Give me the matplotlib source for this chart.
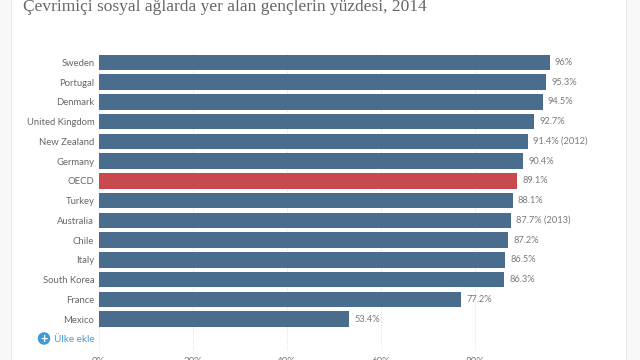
import matplotlib
matplotlib.use('Agg')
from matplotlib import pyplot as plt
from matplotlib.patches import Rectangle

countries = ['Sweden', 'Portugal', 'Denmark', 'United Kingdom', 'New Zealand', 'Germany', 'OECD',
             'Turkey', 'Australia', 'Chile', 'Italy', 'South Korea', 'France', 'Mexico']
values = [96, 95.3, 94.5, 92.7, 91.4, 90.4, 89.1, 88.1, 87.7, 87.2, 86.5, 86.3, 77.2, 53.4]
value_labels = ['96%', '95.3%', '94.5%', '92.7%', '91.4% (2012)', '90.4%', '89.1%', '88.1%',
                '87.7% (2013)', '87.2%', '86.5%', '86.3%', '77.2%', '53.4%']
x_ticks = [0, 20, 40, 60, 80]
x_tick_labels = ['0%', '20%', '40%', '60%', '80%']
title = 'Çevrimiçi sosyal ağlarda yer alan gençlerin yüzdesi, 2014'

W, H = 640, 360
plt.rcParams['font.family'] = ['Lato', 'DejaVu Sans']

fig = plt.figure(figsize=(6.4, 3.6), dpi=100, facecolor='white')

# side panels of the web page
fig.patches.append(Rectangle((0, 0), 11 / W, 1, transform=fig.transFigure, color='#f8f8f8', lw=0))
fig.patches.append(Rectangle((11 / W, 0), 1.2 / W, 1, transform=fig.transFigure, color='#e8e8e8', lw=0))
fig.patches.append(Rectangle((626 / W, 0), 14 / W, 1, transform=fig.transFigure, color='#f8f8f8', lw=0))
fig.patches.append(Rectangle((626 / W, 0), 1.2 / W, 1, transform=fig.transFigure, color='#e8e8e8', lw=0))

# axes: 0-100% runs from 98px to 568px, rows are 19.77px apart
top, bottom = 52, 351
ax = fig.add_axes([98.5 / W, 1 - bottom / H, 470 / W, (bottom - top) / H])
ax.patch.set_alpha(0)
ax.set_xlim(0, 100)
ax.set_ylim((bottom - 62.4) / 19.75, (top - 62.4) / 19.75)

colors = ['#c94a4e' if c == 'OECD' else '#4a6d8d' for c in countries]
rows = list(range(len(countries)))
ax.barh(rows, values, height=0.79, color=colors, zorder=3)
for r, v, lab in zip(rows, values, value_labels):
    ax.annotate(lab, (v, r), xytext=(3.6, 0), textcoords='offset points', va='center', ha='left',
                fontsize=6.7, color='#7a7a7a')

ax.set_yticks(rows)
ax.set_yticklabels(countries, fontsize=6.8, color='#666666')
ax.set_xticks(x_ticks)
ax.set_xticklabels(x_tick_labels, fontsize=7, color='#777777')
ax.tick_params(length=0, axis='both', pad=3)
ax.tick_params(axis='x', pad=4)
ax.grid(axis='x', color='#dddddd', lw=0.7, ls=':', zorder=0)
for s in ax.spines.values():
    s.set_visible(False)

# the add-country button
fig.text(94.5 / W, 1 - 339 / H, 'Ülke ekle', fontsize=7.2, color='#4a9ad4', ha='right', va='center')
fig.text(44 / W, 1 - 338.5 / H, '+', fontsize=9, color='white', ha='center', va='center', weight='bold',
         bbox={'boxstyle': 'circle,pad=0.02', 'fc': '#3f97dc', 'ec': 'none'})

fig.text(23 / W, 1 - 11 / H, title, fontsize=12.5, color='#666666', family=['Liberation Serif'], va='baseline')

plt.savefig('out.png', dpi=100)
